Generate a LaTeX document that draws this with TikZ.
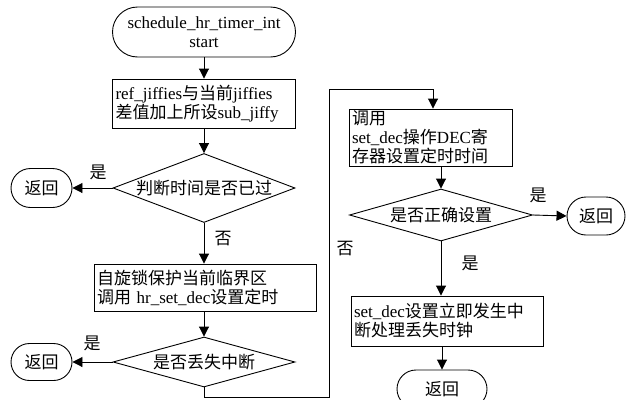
\documentclass[tikz,border=0pt]{standalone}
\usepackage{fontspec}
\setmainfont{Liberation Serif}
\newfontfamily\cjk{Noto Sans CJK SC}
\usetikzlibrary{shapes.geometric,shapes.misc,arrows.meta}
\tikzset{
  every node/.style={font=\fontsize{17}{19}\selectfont},
  base/.style={draw=black, line width=0.9pt},
  term/.style={base, rounded rectangle, inner sep=0pt, align=center},
  procbox/.style={base, rectangle, inner xsep=3pt, inner ysep=0pt, align=left},
  decision/.style={base, diamond, inner sep=0pt},
  lbl/.style={inner sep=0pt, font=\fontsize{17}{19}\selectfont\cjk},
  arr/.style={line width=0.9pt, -{Triangle[length=10pt,width=10pt]}},
  ln/.style={line width=0.9pt}
}
\begin{document}
\begin{tikzpicture}[x=1pt,y=-1pt]
\useasboundingbox (0,0) rectangle (629,399);
% nodes
\node[term, minimum width=183, minimum height=50] (start) at (204,32) {schedule\_hr\_timer\_int\\start};
\node[procbox, minimum width=183, minimum height=49, text width=177] (b1) at (204,103.5)
  {ref\_jiffies{\cjk 与当前}jiffies\\{\cjk 差值加上所设}sub\_jiffy};
\node[decision, minimum width=182, minimum height=69,
  label={[lbl]center:判断时间是否已过}] (d1) at (204,188) {};
\node[term, minimum width=61, minimum height=39, font=\fontsize{17}{19}\selectfont\cjk] (r1) at (41.5,188) {返回};
\node[procbox, minimum width=222, minimum height=47, text width=216] (b2) at (205,287.5)
  {{\cjk 自旋锁保护当前临界区}\\{\cjk 调用} hr\_set\_dec{\cjk 设置定时}};
\node[decision, minimum width=182, minimum height=50,
  label={[lbl]center:是否丢失中断}] (d2) at (204,362) {};
\node[term, minimum width=61, minimum height=37, font=\fontsize{17}{19}\selectfont\cjk] (r2) at (41.5,362) {返回};
\node[procbox, minimum width=163, minimum height=57, text width=157] (b3) at (430.5,137.5)
  {{\cjk 调用}\\set\_dec{\cjk 操作}DEC{\cjk 寄}\\{\cjk 存器设置定时时间}};
\node[decision, minimum width=183, minimum height=52,
  label={[lbl]center:是否正确设置}] (d3) at (441,215) {};
\node[term, minimum width=58, minimum height=38, font=\fontsize{17}{19}\selectfont\cjk] (r3) at (596,216) {返回};
\node[procbox, minimum width=192, minimum height=50, text width=186] (b4) at (447,321)
  {set\_dec{\cjk 设置立即发生中}\\{\cjk 断处理丢失时钟}};
\node[term, minimum width=90, minimum height=38, font=\fontsize{17}{19}\selectfont\cjk] (r4) at (442,389) {返回};
% labels
\node[lbl] (y1) at (98,172) {是};
\node[lbl] (n1) at (223,239) {否};
\node[lbl] (y2) at (92,343) {是};
\node[lbl] (n2) at (345,249) {否};
\node[lbl] (y3) at (538,195) {是};
\node[lbl] (y4) at (470,263) {是};
% coordinates
\coordinate (c1) at (329,397);
\coordinate (c2) at (329,89);
\coordinate (c3) at (433,89);
% connectors
\draw[arr] (start.south) -- (b1.north);
\draw[arr] (b1.south) -- (d1.north);
\draw[arr] (d1.west) -- (r1.east);
\draw[arr] (d1.south) -- (d1.south |- b2.north);
\draw[arr] (d2.north |- b2.south) -- (d2.north);
\draw[arr] (d2.west) -- (r2.east);
\draw[arr] (d2.south) |- (c1) -- (c2) -- (c3) -- (c3 |- b3.north);
\draw[arr] (d3.north |- b3.south) -- (d3.north);
\draw[arr] (d3.east) -- (r3.west);
\draw[arr] (d3.south) -- (d3.south |- b4.north);
\draw[arr] (r4.north |- b4.south) -- (r4.north);
\end{tikzpicture}
\end{document}
